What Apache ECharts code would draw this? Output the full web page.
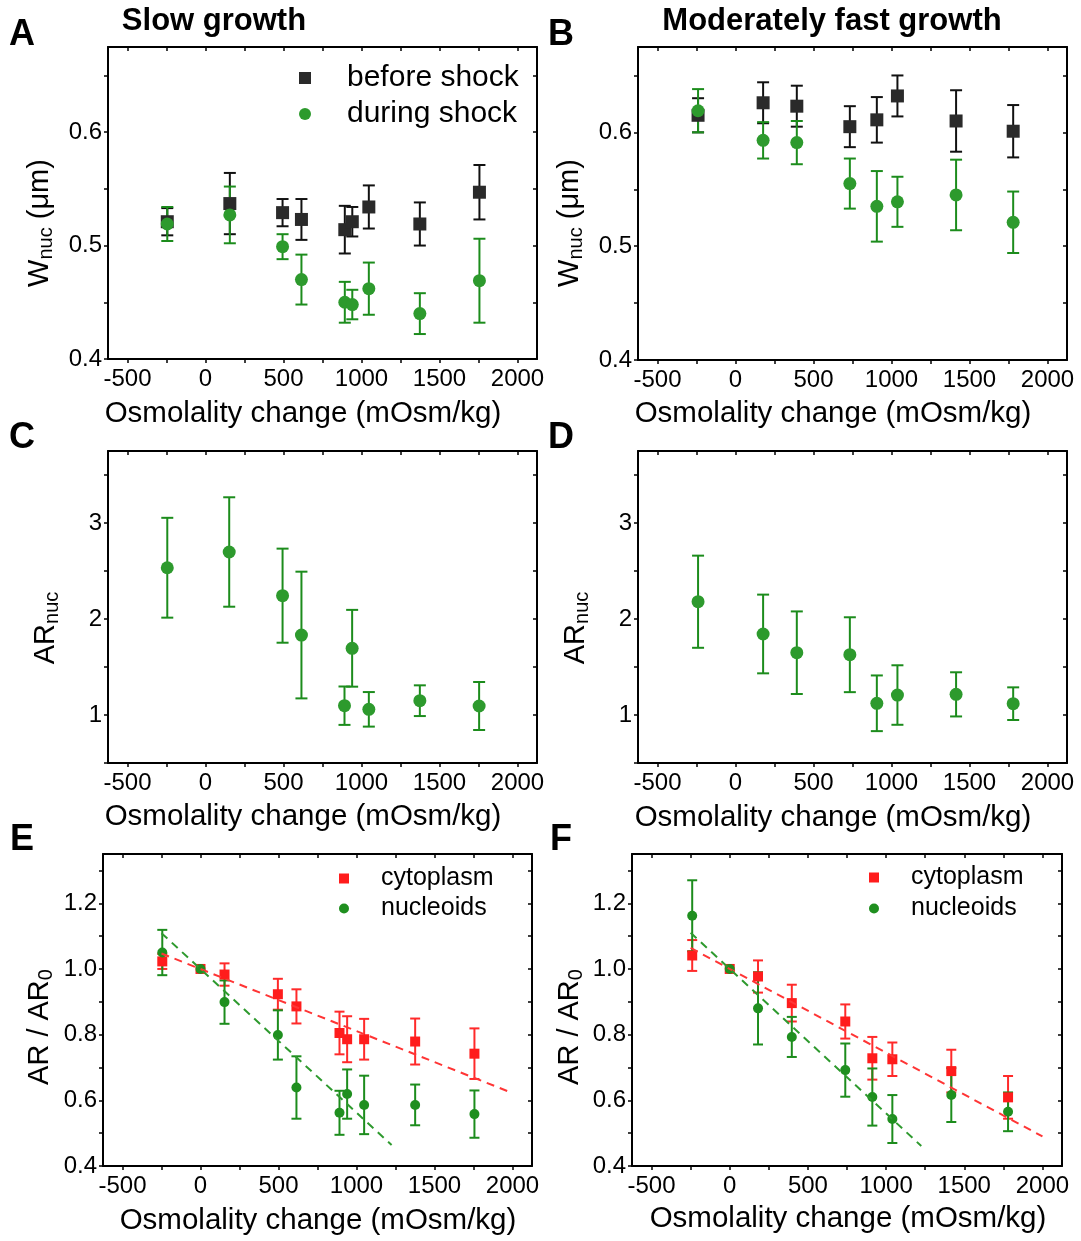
<!DOCTYPE html>
<html>
<head>
<meta charset="utf-8">
<script src="https://cdn.jsdelivr.net/npm/echarts@6/dist/echarts.min.js"></script>
<style>
html,body{margin:0;padding:0;background:#fff;}
#chart{width:1081px;height:1241px;}
</style>
</head>
<body>
<div id="chart"></div>
<script>
// ---------------- data ----------------
// Panel A (slow growth) : nucleoid width
const osmA = [-245, 156, 494, 615, 893, 941, 1047, 1374, 1756];
const wBeforeA = [0.521, 0.537, 0.529, 0.523, 0.514, 0.521, 0.534, 0.519, 0.547];
const wBeforeErrA = [0.012, 0.027, 0.012, 0.018, 0.021, 0.013, 0.019, 0.019, 0.024];
const wDuringA = [0.519, 0.527, 0.499, 0.470, 0.450, 0.448, 0.462, 0.440, 0.469];
const wDuringErrA = [0.015, 0.025, 0.011, 0.022, 0.018, 0.013, 0.023, 0.018, 0.037];
// Panel B (moderately fast growth)
const osmB = [-240, 177, 393, 733, 906, 1038, 1414, 1780];
const wBeforeB = [0.615, 0.626, 0.623, 0.605, 0.611, 0.632, 0.610, 0.601];
const wBeforeErrB = [0.015, 0.018, 0.018, 0.018, 0.020, 0.018, 0.027, 0.023];
const wDuringB = [0.619, 0.593, 0.591, 0.555, 0.535, 0.539, 0.545, 0.521];
const wDuringErrB = [0.019, 0.016, 0.019, 0.022, 0.031, 0.022, 0.031, 0.027];
// Panel C / D : nucleoid aspect ratio
const osmC = [-245, 152, 494, 615, 891, 940, 1047, 1374, 1754];
const arC = [2.534, 2.698, 2.243, 1.833, 1.097, 1.695, 1.059, 1.149, 1.094];
const arErrC = [0.52, 0.57, 0.49, 0.66, 0.20, 0.40, 0.18, 0.16, 0.25];
const osmD = [-240, 177, 393, 733, 906, 1038, 1414, 1780];
const arD = [2.18, 1.844, 1.649, 1.628, 1.122, 1.208, 1.215, 1.118];
const arErrD = [0.48, 0.41, 0.43, 0.39, 0.29, 0.31, 0.23, 0.17];
// Panel E / F : normalised aspect ratio
const osmE = [-245, 0, 154, 496, 615, 891, 940, 1049, 1376, 1756];
const cytoE = [1.023, 1.0, 0.983, 0.923, 0.886, 0.805, 0.786, 0.786, 0.779, 0.742];
const cytoErrE = [0.023, 0, 0.034, 0.047, 0.052, 0.065, 0.070, 0.062, 0.070, 0.077];
const nucE = [1.050, 1.0, 0.899, 0.799, 0.639, 0.562, 0.619, 0.586, 0.586, 0.558];
const nucErrE = [0.069, 0, 0.066, 0.075, 0.095, 0.067, 0.075, 0.089, 0.062, 0.072];
const osmF = [-240, 0, 181, 397, 739, 912, 1040, 1417, 1780];
const cytoF = [1.041, 1.0, 0.977, 0.896, 0.840, 0.728, 0.725, 0.689, 0.609];
const cytoErrF = [0.047, 0, 0.049, 0.056, 0.052, 0.065, 0.051, 0.065, 0.065];
const nucF = [1.162, 1.0, 0.880, 0.793, 0.692, 0.610, 0.543, 0.616, 0.565];
const nucErrF = [0.108, 0, 0.110, 0.061, 0.081, 0.087, 0.073, 0.082, 0.059];
// linear fits (dashed lines): endpoints
const fitCytoE = [[-250, 1.047], [2000, 0.622]];
const fitNucE = [[-250, 1.109], [1225, 0.464]];
const fitCytoF = [[-250, 1.064], [2000, 0.490]];
const fitNucF = [[-250, 1.110], [1225, 0.461]];
// axes / ticks
const xRange = [-625, 2125];
const xTicks = [-500, -250, 0, 250, 500, 750, 1000, 1250, 1500, 1750, 2000];
const xLabels = [-500, 0, 500, 1000, 1500, 2000];
const wRange = [0.4, 0.675];
const wTicks = [0.4, 0.45, 0.5, 0.55, 0.6, 0.65];
const wLabels = [0.4, 0.5, 0.6];
const arRange = [0.5, 3.75];
const arTicks = [0.5, 1, 1.5, 2, 2.5, 3, 3.5];
const arLabels = [1, 2, 3];
const nRange = [0.4, 1.35];
const nTicks = [0.4, 0.5, 0.6, 0.7, 0.8, 0.9, 1.0, 1.1, 1.2, 1.3];
const nLabels = [0.4, 0.6, 0.8, 1.0, 1.2];

// ---------------- styling ----------------
const FONT = '"Liberation Sans", Arial, sans-serif';
const BLACK_PT = '#2a2a2a', BLACK_BAR = '#111111';
const GREEN_PT = '#2d9a2d', GREEN_BAR = '#1c8c1c';
const GREEN_PT2 = '#1f8f1f';
const RED_PT = '#ff1c1c', RED_BAR = '#ff2a2a', RED_LINE = '#ff3535';
const GREEN_LINE = '#2e9a2e';

const gridBoxes = [
  {left: 108, top: 47, width: 429, height: 312},
  {left: 638, top: 47, width: 429, height: 313},
  {left: 108, top: 451, width: 429, height: 312},
  {left: 638, top: 451, width: 429, height: 312},
  {left: 103, top: 854, width: 429, height: 312},
  {left: 632, top: 854, width: 430, height: 312}
];

const xAxes = [], yAxes = [];
function addAxes(i, yr, yt, yl, digits) {
  const line = {show: true, onZero: false, lineStyle: {color: '#000', width: 2}};
  const lab = {fontSize: 24, color: '#000', fontFamily: FONT};
  xAxes.push({type: 'value', gridIndex: i, min: xRange[0], max: xRange[1], position: 'bottom',
    axisLine: line, splitLine: {show: false},
    axisTick: {show: true, inside: false, length: 4, customValues: xTicks, lineStyle: {color: '#000', width: 1.5}},
    axisLabel: Object.assign({show: true, customValues: xLabels, margin: 8,
      formatter: v => String(Math.round(v))}, lab)});
  xAxes.push({type: 'value', gridIndex: i, min: xRange[0], max: xRange[1], position: 'top',
    axisLine: line, splitLine: {show: false},
    axisTick: {show: true, inside: true, length: 4, customValues: xTicks, lineStyle: {color: '#000', width: 1.5}},
    axisLabel: {show: false}});
  yAxes.push({type: 'value', gridIndex: i, min: yr[0], max: yr[1], position: 'left',
    axisLine: line, splitLine: {show: false},
    axisTick: {show: true, inside: false, length: 4, customValues: yt, lineStyle: {color: '#000', width: 1.5}},
    axisLabel: Object.assign({show: true, customValues: yl, margin: 6,
      formatter: v => Number(v).toFixed(digits)}, lab)});
  yAxes.push({type: 'value', gridIndex: i, min: yr[0], max: yr[1], position: 'right',
    axisLine: line, splitLine: {show: false},
    axisTick: {show: true, inside: true, length: 4, customValues: yt, lineStyle: {color: '#000', width: 1.5}},
    axisLabel: {show: false}});
}
addAxes(0, wRange, wTicks, wLabels, 1);
addAxes(1, wRange, wTicks, wLabels, 1);
addAxes(2, arRange, arTicks, arLabels, 0);
addAxes(3, arRange, arTicks, arLabels, 0);
addAxes(4, nRange, nTicks, nLabels, 1);
addAxes(5, nRange, nTicks, nLabels, 1);

const series = [];
function errSeries(i, xs, ys, es, color, cap) {
  const data = [];
  xs.forEach((x, k) => { if (es[k] > 0) data.push([x, ys[k] - es[k], ys[k] + es[k]]); });
  series.push({
    type: 'custom', xAxisIndex: 2 * i, yAxisIndex: 2 * i, silent: true,
    encode: {x: 0, y: [1, 2]},
    data: data,
    renderItem: function (params, api) {
      const x = api.value(0);
      const top = api.coord([x, api.value(2)]);
      const bot = api.coord([x, api.value(1)]);
      const st = {stroke: color, lineWidth: 2, fill: 'none'};
      return {type: 'group', children: [
        {type: 'line', shape: {x1: top[0], y1: top[1], x2: bot[0], y2: bot[1]}, style: st},
        {type: 'line', shape: {x1: top[0] - cap, y1: top[1], x2: top[0] + cap, y2: top[1]}, style: st},
        {type: 'line', shape: {x1: bot[0] - cap, y1: bot[1], x2: bot[0] + cap, y2: bot[1]}, style: st}
      ]};
    }
  });
}
function ptSeries(i, name, xs, ys, color, symbol, size) {
  series.push({
    type: 'scatter', name: name, xAxisIndex: 2 * i, yAxisIndex: 2 * i,
    symbol: symbol, symbolSize: size, silent: true,
    itemStyle: {color: color, opacity: 1},
    data: xs.map((x, k) => [x, ys[k]])
  });
}
function fitSeries(i, pts, color) {
  series.push({
    type: 'line', xAxisIndex: 2 * i, yAxisIndex: 2 * i, silent: true,
    symbol: 'none', data: pts,
    lineStyle: {color: color, width: 2, type: [8, 6]}
  });
}

// A
errSeries(0, osmA, wBeforeA, wBeforeErrA, BLACK_BAR, 6);
ptSeries(0, 'before shock', osmA, wBeforeA, BLACK_PT, 'rect', 13);
errSeries(0, osmA, wDuringA, wDuringErrA, GREEN_BAR, 6);
ptSeries(0, 'during shock', osmA, wDuringA, GREEN_PT, 'circle', 13);
// B
errSeries(1, osmB, wBeforeB, wBeforeErrB, BLACK_BAR, 6);
ptSeries(1, 'before shock', osmB, wBeforeB, BLACK_PT, 'rect', 13);
errSeries(1, osmB, wDuringB, wDuringErrB, GREEN_BAR, 6);
ptSeries(1, 'during shock', osmB, wDuringB, GREEN_PT, 'circle', 13);
// C
errSeries(2, osmC, arC, arErrC, GREEN_BAR, 6);
ptSeries(2, 'AR C', osmC, arC, GREEN_PT, 'circle', 13);
// D
errSeries(3, osmD, arD, arErrD, GREEN_BAR, 6);
ptSeries(3, 'AR D', osmD, arD, GREEN_PT, 'circle', 13);
// E
fitSeries(4, fitCytoE, RED_LINE);
fitSeries(4, fitNucE, GREEN_LINE);
errSeries(4, osmE, cytoE, cytoErrE, RED_BAR, 5);
ptSeries(4, 'cytoplasm', osmE, cytoE, RED_PT, 'rect', 10);
errSeries(4, osmE, nucE, nucErrE, GREEN_BAR, 5);
ptSeries(4, 'nucleoids', osmE, nucE, GREEN_PT2, 'circle', 10);
// F
fitSeries(5, fitCytoF, RED_LINE);
fitSeries(5, fitNucF, GREEN_LINE);
errSeries(5, osmF, cytoF, cytoErrF, RED_BAR, 5);
ptSeries(5, 'cytoplasm', osmF, cytoF, RED_PT, 'rect', 10);
errSeries(5, osmF, nucF, nucErrF, GREEN_BAR, 5);
ptSeries(5, 'nucleoids', osmF, nucF, GREEN_PT2, 'circle', 10);

// ---------------- texts ----------------
const graphics = [];
function txt(text, x, y, size, bold) {
  graphics.push({type: 'text', x: x, y: y, silent: true,
    style: {text: text, fontSize: size, fontWeight: bold ? 'bold' : 'normal', fontFamily: FONT,
      fill: '#000', align: 'center', verticalAlign: 'middle'}});
}
txt('Slow growth', 214, 21, 31, true);
txt('Moderately fast growth', 832, 21, 31, true);
[['A', 22, 35], ['B', 561, 35], ['C', 22, 438], ['D', 561, 438], ['E', 22, 840], ['F', 561, 840]]
  .forEach(l => txt(l[0], l[1], l[2], 36, true));
const xTitle = 'Osmolality change (mOsm/kg)';
[[303, 414], [833, 414], [303, 817], [833, 818], [318, 1221], [848, 1219]]
  .forEach(p => txt(xTitle, p[0], p[1], 29.5, false));
function ytitle(rich, x, y) {
  graphics.push({type: 'text', x: x, y: y, rotation: Math.PI / 2, silent: true,
    style: {text: rich, fill: '#000', align: 'center', verticalAlign: 'middle', fontFamily: FONT, fontSize: 29,
      rich: {
        m: {fontSize: 29, fontFamily: FONT, fill: '#000'},
        s: {fontSize: 20, fontFamily: FONT, fill: '#000', padding: [12, 0, 0, 0]}
      }}});
}
ytitle('{m|W}{s|nuc}{m| (μm)}', 40, 223);
ytitle('{m|W}{s|nuc}{m| (μm)}', 570, 223);
ytitle('{m|AR}{s|nuc}', 46, 628);
ytitle('{m|AR}{s|nuc}', 576, 628);
ytitle('{m|AR / AR}{s|0}', 40, 1027);
ytitle('{m|AR / AR}{s|0}', 570, 1027);

const legends = [
  {left: 299, top: 63, itemWidth: 12, itemHeight: 12, itemGap: 6, fs: 30, pad: 31,
    data: [{name: 'before shock', icon: 'rect'}, {name: 'during shock', icon: 'circle'}]},
  {left: 339, top: 866, itemWidth: 10, itemHeight: 10, itemGap: 5, fs: 25, pad: 27,
    data: [{name: 'cytoplasm', icon: 'rect'}, {name: 'nucleoids', icon: 'circle'}]},
  {left: 869, top: 865, itemWidth: 10, itemHeight: 10, itemGap: 6, fs: 25, pad: 27,
    data: [{name: 'cytoplasm', icon: 'rect'}, {name: 'nucleoids', icon: 'circle'}]}
].map(l => ({
  orient: 'vertical', left: l.left, top: l.top, padding: 0, itemWidth: l.itemWidth, itemHeight: l.itemHeight,
  itemGap: l.itemGap, selectedMode: false, data: l.data,
  textStyle: {fontSize: l.fs, lineHeight: l.fs, fontFamily: FONT, color: '#000', padding: [0, 0, 0, l.pad]}
}));

const chart = echarts.init(document.getElementById('chart'), null, {renderer: 'canvas'});
chart.setOption({
  animation: false,
  backgroundColor: '#fff',
  grid: gridBoxes,
  xAxis: xAxes,
  yAxis: yAxes,
  legend: legends,
  series: series,
  graphic: graphics
});
</script>
</body>
</html>
